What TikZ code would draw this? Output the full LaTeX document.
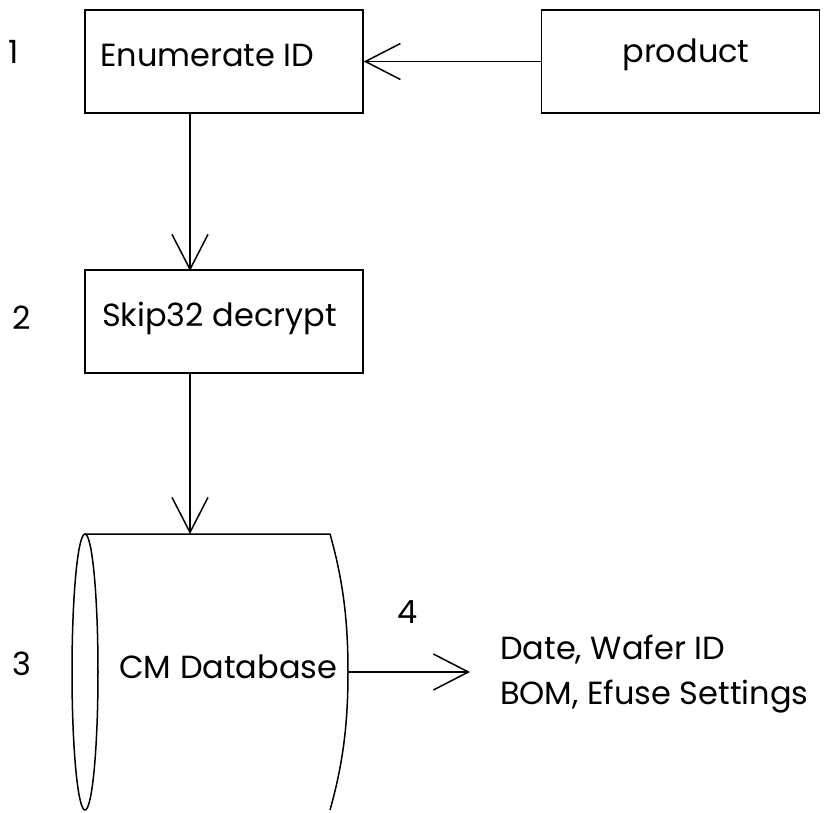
\documentclass[tikz,border=0pt]{standalone}
\usepackage{fontspec}
\setmainfont{Poppins}
\usetikzlibrary{arrows.meta}
\begin{document}
\begin{tikzpicture}[x=1pt,y=-1pt,
  every node/.style={font=\fontsize{32}{36}\selectfont},
  box/.style={draw,line width=1.5pt,minimum width=278pt,minimum height=103pt,inner sep=0pt},
  flow/.style={draw,line width=1.5pt,-{Straight Barb[length=35pt,width=36pt,line width=1.5pt]}},
  lbl/.style={anchor=west,inner sep=0pt}]
\useasboundingbox (0,0) rectangle (833,812);
\clip (0,0) rectangle (833,812);

% process boxes
\node[box] (enum) at (224,61.5) {};
\node[box] (prod) at (680.5,61.5) {};
\node[box] (skip) at (224,321.5) {};
\node[lbl] at (100,55) {Enumerate ID};
\node at (686,55) {product};
\node[lbl] at (102,318) {Skip32 decrypt};

% database cylinder, lying on its side
\coordinate (dbtop) at (190,534);
\coordinate (dbright) at (348,672);
\draw[line width=1.5pt] (85,672) ellipse [x radius=13, y radius=138];
\draw[line width=1.5pt] (85,534) -- (330,534)
  .. controls (343,580) and (348,620) .. (dbright)
  .. controls (348,724) and (343,764) .. (330,810);
\node[lbl] at (119,667) {CM Database};

% step numbers
\node at (14,52) {1};
\node at (22,318) {2};
\node at (22,664) {3};
\node at (408,612) {4};

% output
\coordinate (out) at (470,672);
\node[lbl] at (500,650) {Date, Wafer ID};
\node[lbl] at (500,697) {BOM, Efuse Settings};

% connectors
\draw[flow] (prod.west) -- (enum.east);
\draw[flow] (190,113) -- (190,271);
\draw[flow] (190,372) -- (dbtop);
\draw[flow] (dbright) -- (out);
\end{tikzpicture}
\end{document}
